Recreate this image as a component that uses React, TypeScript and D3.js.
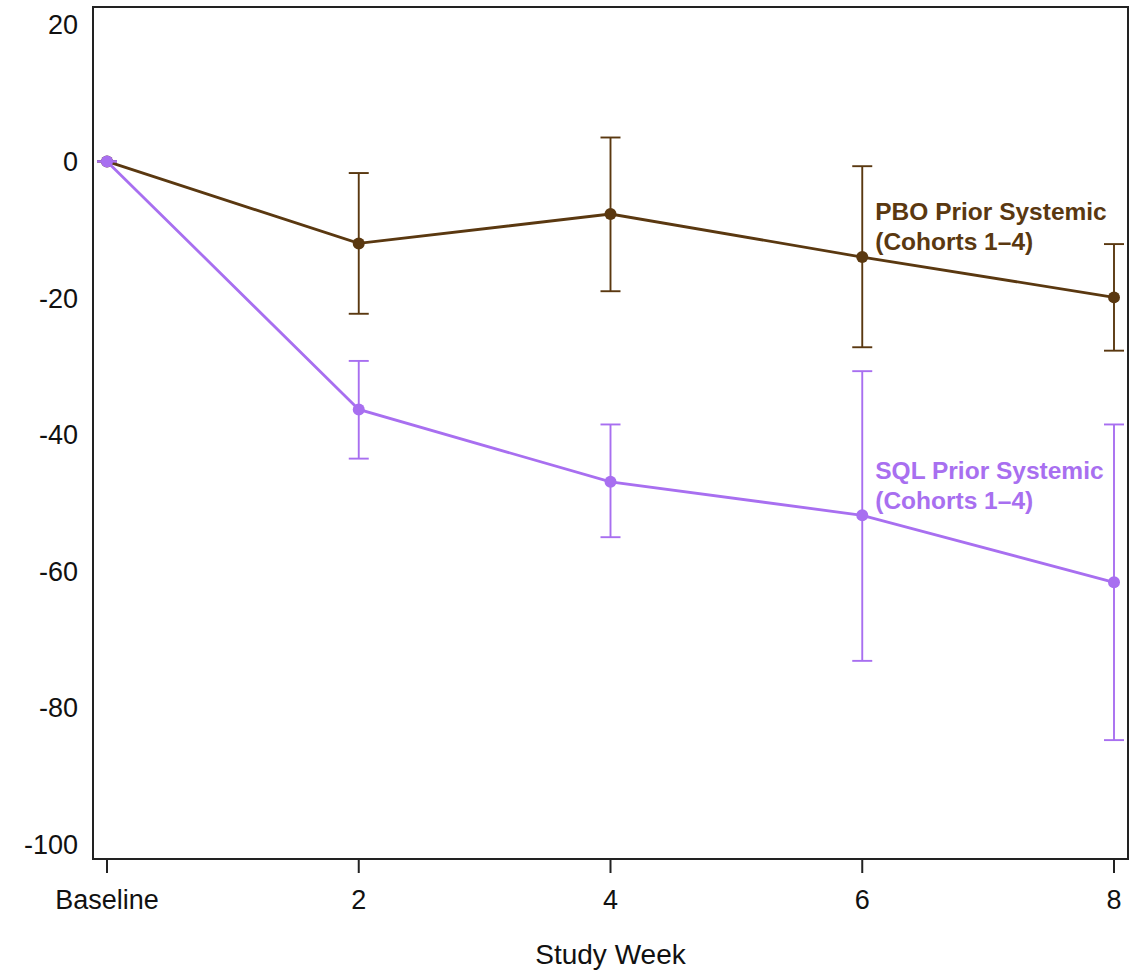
import React from 'react';
import * as d3 from 'd3';

const weeks = ['Baseline', '2', '4', '6', '8'];
const yTicks = [20, 0, -20, -40, -60, -80, -100];

const pboMean = [0, -12, -7.7, -14, -19.9];
const pboLow = [0, -22.3, -19, -27.2, -27.7];
const pboHigh = [0, -1.7, 3.5, -0.7, -12.1];

const sqlMean = [0, -36.3, -46.9, -51.8, -61.6];
const sqlLow = [0, -43.5, -55, -73.1, -84.7];
const sqlHigh = [0, -29.2, -38.5, -30.7, -38.5];

const BROWN = '#5a3810';
const PURPLE = '#a86ff0';

const W = 1139;
const H = 970;
const margin = { top: 7, right: 11, bottom: 111, left: 93 };

export default function App() {
  const innerW = W - margin.left - margin.right;
  const innerH = H - margin.top - margin.bottom;

  const x = d3.scalePoint<string>().domain(weeks).range([14, innerW - 14]);
  const y = d3.scaleLinear().domain([-102.1, 22.6]).range([innerH, 0]);

  const line = d3.line<number>()
    .x((_, i) => x(weeks[i])!)
    .y(d => y(d));

  const series = [
    { mean: pboMean, low: pboLow, high: pboHigh, color: BROWN },
    { mean: sqlMean, low: sqlLow, high: sqlHigh, color: PURPLE },
  ];

  const font = 'Arial, "Liberation Sans", Helvetica, sans-serif';
  const labelX = x('6')! + 13;

  return (
    <svg width={W} height={H} style={{ position: 'absolute', left: 0, top: 0 }} fontFamily={font}>
      <rect width={W} height={H} fill="#fff" />
      <g transform={`translate(${margin.left},${margin.top})`}>
        {series.map((s, si) => (
          <g key={si}>
            {s.mean.map((m, i) => {
              const cx = x(weeks[i])!;
              return (
                <g key={i} stroke={s.color} strokeWidth={1.9}>
                  <line x1={cx} x2={cx} y1={y(s.low[i])} y2={y(s.high[i])} />
                  <line x1={cx - 10} x2={cx + 10} y1={y(s.low[i])} y2={y(s.low[i])} />
                  <line x1={cx - 10} x2={cx + 10} y1={y(s.high[i])} y2={y(s.high[i])} />
                </g>
              );
            })}
            <path d={line(s.mean)!} fill="none" stroke={s.color} strokeWidth={2.8} />
            {s.mean.map((m, i) => (
              <circle key={i} cx={x(weeks[i])!} cy={y(m)} r={6} fill={s.color} />
            ))}
          </g>
        ))}

        <rect x={0} y={0} width={innerW} height={innerH} fill="none" stroke="#222" strokeWidth={2} />

        {yTicks.map(t => (
          <text key={t} x={-15} y={y(t)} dy="0.35em" textAnchor="end" fontSize={27} fill="#111">
            {t}
          </text>
        ))}

        {weeks.map(w => (
          <g key={w} transform={`translate(${x(w)},${innerH})`}>
            <line y1={1} y2={14} stroke="#222" strokeWidth={2} />
            <text y={41} dy="0.35em" textAnchor="middle" fontSize={27} fill="#111">{w}</text>
          </g>
        ))}

        <text x={x('4')!} y={innerH + 95} dy="0.35em" textAnchor="middle" fontSize={28} fill="#111">
          Study Week
        </text>

        <text y={y(-7.3)} dy="0.35em" fontSize={24.5} fontWeight="bold" fill={BROWN}>
          <tspan x={labelX}>PBO Prior Systemic</tspan>
          <tspan x={labelX} dy={30}>(Cohorts 1–4)</tspan>
        </text>

        <text y={y(-45.3)} dy="0.35em" fontSize={24.5} fontWeight="bold" fill={PURPLE}>
          <tspan x={labelX}>SQL Prior Systemic</tspan>
          <tspan x={labelX} dy={30}>(Cohorts 1–4)</tspan>
        </text>
      </g>
    </svg>
  );
}
